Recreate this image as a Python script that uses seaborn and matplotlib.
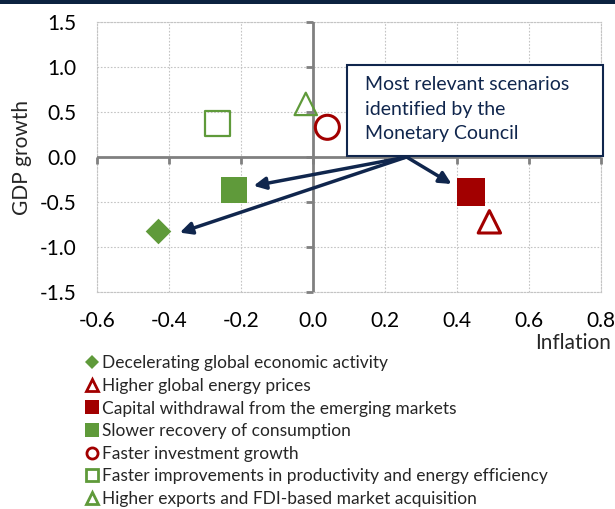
import matplotlib
matplotlib.use("Agg")
import matplotlib.pyplot as plt
from matplotlib.lines import Line2D
from matplotlib.patches import Rectangle
import pandas as pd
import seaborn as sns

# scenario data: inflation and GDP growth deviations
scenarios = [
    "Decelerating global economic activity",
    "Higher global energy prices",
    "Capital withdrawal from the emerging markets",
    "Slower recovery of consumption",
    "Faster investment growth",
    "Faster improvements in productivity and energy efficiency",
    "Higher exports and FDI-based market acquisition",
]
inflation = [-0.43, 0.49, 0.44, -0.22, 0.04, -0.265, -0.02]
gdp_growth = [-0.82, -0.72, -0.39, -0.37, 0.33, 0.37, 0.59]

xticks = [-0.6, -0.4, -0.2, 0.0, 0.2, 0.4, 0.6, 0.8]
yticks = [-1.5, -1.0, -0.5, 0.0, 0.5, 1.0, 1.5]

green = "#5f9a3a"
red = "#a20000"
navy = "#10264d"

# marker styles per scenario
markers = ["D", "^", "s", "s", "o", "s", "^"]
colors = [green, red, red, green, red, green, green]
filled = [True, False, True, True, False, False, False]
sizes = [170, 260, 400, 360, 300, 330, 260]
edge_w = [0, 2.2, 0, 0, 2.2, 1.6, 1.6]
leg_size = [7, 8, 10, 10, 8, 9, 8]

df = pd.DataFrame({"scenario": scenarios, "inflation": inflation, "gdp": gdp_growth})

sns.set_style("white")
plt.rcParams["font.family"] = ["Lato", "DejaVu Sans"]
plt.rcParams["axes.unicode_minus"] = False

fig = plt.figure(figsize=(6.15, 5.09), dpi=100)
ax = fig.add_axes([0.1577, 0.4263, 0.8195, 0.5305])

for i, row in df.iterrows():
    kw = dict(marker=markers[i], s=sizes[i], linewidth=edge_w[i], zorder=5, ax=ax, legend=False)
    if filled[i]:
        sns.scatterplot(x=[row.inflation], y=[row.gdp], color=colors[i], edgecolor=colors[i], **kw)
    else:
        sns.scatterplot(x=[row.inflation], y=[row.gdp], color=colors[i], facecolor="none",
                        edgecolor=colors[i], **kw)

ax.set_xlim(-0.6, 0.8)
ax.set_ylim(-1.5, 1.5)
ax.set_xticks(xticks)
ax.set_yticks(yticks)
ax.set_xticklabels([f"{t:.1f}" for t in xticks])
ax.set_yticklabels([f"{t:.1f}" for t in yticks])
ax.tick_params(length=0, labelsize=15, colors="black")
ax.tick_params(axis="x", pad=14)
ax.tick_params(axis="y", pad=15)
ax.grid(True, color="#c4c4c4", linestyle=(0, (1.5, 1.5)), linewidth=0.8)
for sp in ax.spines.values():
    sp.set_color("#c4c4c4")
    sp.set_linestyle((0, (1.5, 1.5)))
    sp.set_linewidth(0.8)

# axes crossing at zero with tick marks
ax.axhline(0, color="#808080", lw=2, zorder=3)
ax.axvline(0, color="#808080", lw=2, zorder=3)
ax.plot(xticks, [0] * len(xticks), ls="none", marker=3, ms=5, mew=2, color="#808080", zorder=3, clip_on=False)
ax.plot([0] * len(yticks), yticks, ls="none", marker=0, ms=5, mew=2, color="#808080", zorder=3, clip_on=False)

ax.set_ylabel("GDP growth", fontsize=15)
ax.yaxis.set_label_coords(-0.128, 0.5)
ax.set_xlabel("Inflation", fontsize=15, ha="right")
ax.xaxis.set_label_coords(1.02, -0.15)

# annotation box and arrows
box = Rectangle((0.094, 0.01), 0.712, 1.01, facecolor="white", edgecolor=navy, lw=1.5,
                zorder=6, clip_on=False)
ax.add_patch(box)
ax.text(0.145, 0.53, "Most relevant scenarios\nidentified by the\nMonetary Council",
        fontsize=14, color=navy, va="center", ha="left", linespacing=1.55, zorder=7)
origin = (0.26, 0.0)
targets = [(0.385, -0.30), (-0.165, -0.32), (-0.37, -0.84)]
for t in targets:
    ax.annotate("", xy=t, xytext=origin,
                arrowprops=dict(arrowstyle="-|>", color=navy, lw=2.5, mutation_scale=18,
                                shrinkA=0, shrinkB=0), zorder=6)

# legend
handles = []
for i in range(len(scenarios)):
    handles.append(Line2D([], [], ls="none", marker=markers[i], ms=leg_size[i],
                          markerfacecolor=colors[i] if filled[i] else "none",
                          markeredgecolor=colors[i], markeredgewidth=2 if not filled[i] else 0))
fig.legend(handles, scenarios, loc="upper left", bbox_to_anchor=(0.125, 0.319), frameon=False,
           fontsize=12.5, handlelength=0.7, handletextpad=0.25, labelspacing=0.38, borderpad=0)

fig.add_artist(Rectangle((0, 1 - 4 / 509), 1, 4 / 509, transform=fig.transFigure,
                         facecolor="#0c2240", edgecolor="none"))

fig.savefig("out.png", dpi=100)
